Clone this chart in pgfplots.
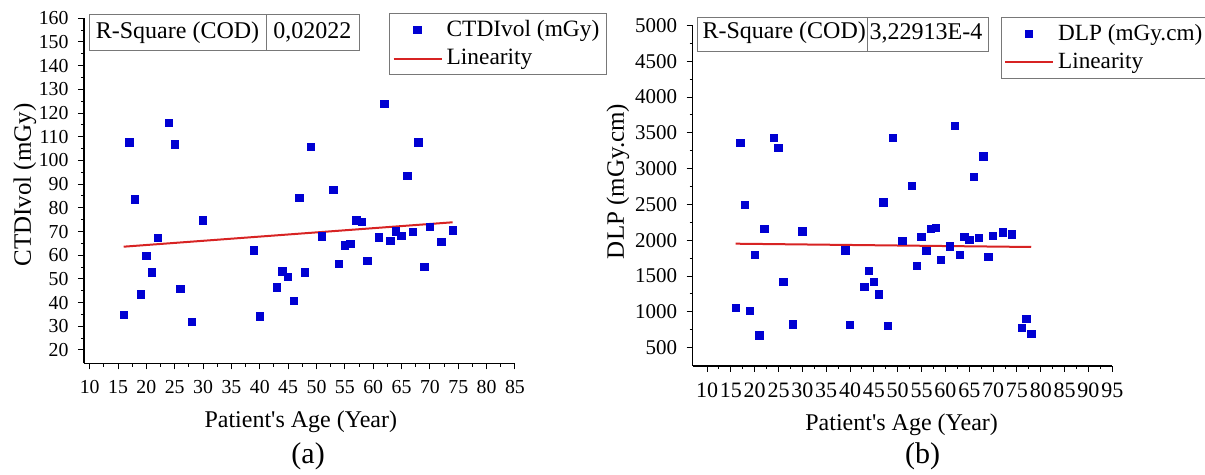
\documentclass[border=0pt]{standalone}
\usepackage{fontspec}
\setmainfont{Liberation Serif}
\usepackage{pgfplots}
\pgfplotsset{compat=1.18}

\definecolor{ptblue}{RGB}{0,0,210}
\definecolor{fitred}{RGB}{215,35,35}
\definecolor{boxgray}{RGB}{120,120,120}

\pgfplotsset{
 originstyle/.style={
  scale only axis, clip=false,
  axis lines=left, axis line style={-, line width=0.6pt},
  tick align=outside, major tick length=3pt, minor tick length=1.6pt,
  tick style={black, line width=0.5pt},
  minor tick num=1,
  /pgf/number format/assume math mode=true,
  /pgf/number format/1000 sep={},
  scaled ticks=false,
  xticklabel style={yshift=-2pt},
  yticklabel style={xshift=-1.2pt},
  xlabel style={font=\fontsize{12}{14}\selectfont, anchor=center},
  ylabel style={font=\fontsize{12.5}{14}\selectfont, anchor=center},
  legend cell align=left,
  legend style={draw=boxgray, line width=0.5pt, inner sep=1.5pt, row sep=1pt, anchor=north west},
 },
 scat/.style={only marks, mark=square*, mark size=1.85pt, mark options={draw=ptblue, fill=ptblue},
   legend image code/.code={\path[draw=none,fill=none] (0pt,0pt) -- (24pt,0pt); \draw[##1] plot coordinates {(12pt,0pt)};}},
 fitline/.style={no marks, fitred, line width=1pt,
   legend image code/.code={\draw[##1] (0pt,0pt) -- (24pt,0pt);}},
}

\begin{document}
\begin{tikzpicture}
\path[use as bounding box] (0,0) rectangle (602.5pt,237.5pt);

% ---------------- (a) CTDIvol ----------------
\begin{axis}[originstyle,
  at={(42pt,55.75pt)}, anchor=south west,
  width=215.5pt, height=172.6pt,
  xmin=9, xmax=85, ymin=14.3, ymax=160,
  xtick={10,15,...,85}, ytick={20,30,...,160},
  tick label style={font=\fontsize{9.9}{12}\selectfont},
  xlabel={Patient\textquotesingle s Age (Year)}, ylabel={CTDIvol (mGy)},
  xlabel style={at={(axis description cs:0.503,-0.169)}},
  ylabel style={at={(axis description cs:-0.137,0.517)}},
  legend style={at={(axis description cs:0.708,1.016)}, font=\fontsize{11.7}{14}\selectfont},
]
\addplot[scat] coordinates {
(16,34.7) (17,107.7) (18,83.5) (19,43.5) (20,59.6) (21,52.7) (22,67.3)
(24,115.8) (25,106.8) (26,45.8) (28,31.8) (30,74.7) (39,62.0) (40,34.2)
(43,46.4) (44,53.2) (45,50.8) (46,40.6) (47,84.2) (48,52.7) (49,105.8)
(51,68.0) (53,87.5) (54,56.3) (55,64.2) (56,64.9) (57,74.7) (58,74.0)
(59,57.5) (61,67.6) (62,123.8) (63,66.0) (64,70.1) (65,68.2) (66,93.5)
(67,69.8) (68,107.7) (69,55.0) (70,72.0) (72,65.6) (74,70.4)
};
\addlegendentry{CTDIvol (mGy)}
\addplot[fitline] coordinates {(16,63.6) (74,73.9)};
\addlegendentry{Linearity}
\draw[boxgray, line width=0.5pt] (rel axis cs:0.0123,0.906) rectangle (rel axis cs:0.639,1.0096);
\draw[boxgray, line width=0.5pt] (rel axis cs:0.423,0.906) -- (rel axis cs:0.423,1.0096);
\node[font=\fontsize{12}{14}\selectfont] at (rel axis cs:0.217,0.958) {R-Square (COD)};
\node[font=\fontsize{12}{14}\selectfont] at (rel axis cs:0.530,0.958) {0,02022};
\node[font=\fontsize{15}{18}\selectfont] at (rel axis cs:0.52,-0.27) {(a)};
\end{axis}

% ---------------- (b) DLP ----------------
\begin{axis}[originstyle,
  at={(346.35pt,54.5pt)}, anchor=south west,
  width=209.8pt, height=170.3pt,
  xmin=7, xmax=95, ymin=244.5, ymax=5000,
  xtick={10,15,...,95}, ytick={500,1000,...,5000},
  xticklabel style={font=\fontsize{11}{12}\selectfont},
  yticklabel style={font=\fontsize{10.5}{12}\selectfont},
  xlabel={Patient\textquotesingle s Age (Year)}, ylabel={DLP (mGy.cm)},
  xlabel style={at={(axis description cs:0.498,-0.173)}},
  ylabel style={at={(axis description cs:-0.178,0.542)}},
  legend style={at={(axis description cs:0.734,1.0255)}, font=\fontsize{11.6}{14}\selectfont},
]
\addplot[scat] coordinates {
(16,1058) (17,3360) (18,2490) (19,1017) (20,1794) (21,673) (22,2161)
(24,3430) (25,3290) (26,1421) (28,826) (30,2125) (39,1860) (40,817)
(43,1347) (44,1575) (45,1417) (46,1245) (47,2530) (48,807) (49,3430)
(51,1994) (53,2757) (54,1641) (55,2045) (56,1854) (57,2161) (58,2171)
(59,1729) (61,1915) (62,3600) (63,1799) (64,2045) (65,2003) (66,2887)
(67,2036) (68,3170) (69,1766) (70,2059) (72,2111) (74,2083) (76,779)
(77,901) (78,691)
};
\addlegendentry{DLP (mGy.cm)}
\addplot[fitline] coordinates {(16,1952) (78,1906)};
\addlegendentry{Linearity}
\draw[boxgray, line width=0.5pt] (rel axis cs:0.011,0.923) rectangle (rel axis cs:0.705,1.024);
\draw[boxgray, line width=0.5pt] (rel axis cs:0.417,0.923) -- (rel axis cs:0.417,1.024);
\node[font=\fontsize{12}{14}\selectfont] at (rel axis cs:0.218,0.977) {R-Square (COD)};
\node[font=\fontsize{12}{14}\selectfont] at (rel axis cs:0.556,0.977) {3,22913E-4};
\node[font=\fontsize{15}{18}\selectfont] at (rel axis cs:0.548,-0.266) {(b)};
\end{axis}
\end{tikzpicture}
\end{document}
